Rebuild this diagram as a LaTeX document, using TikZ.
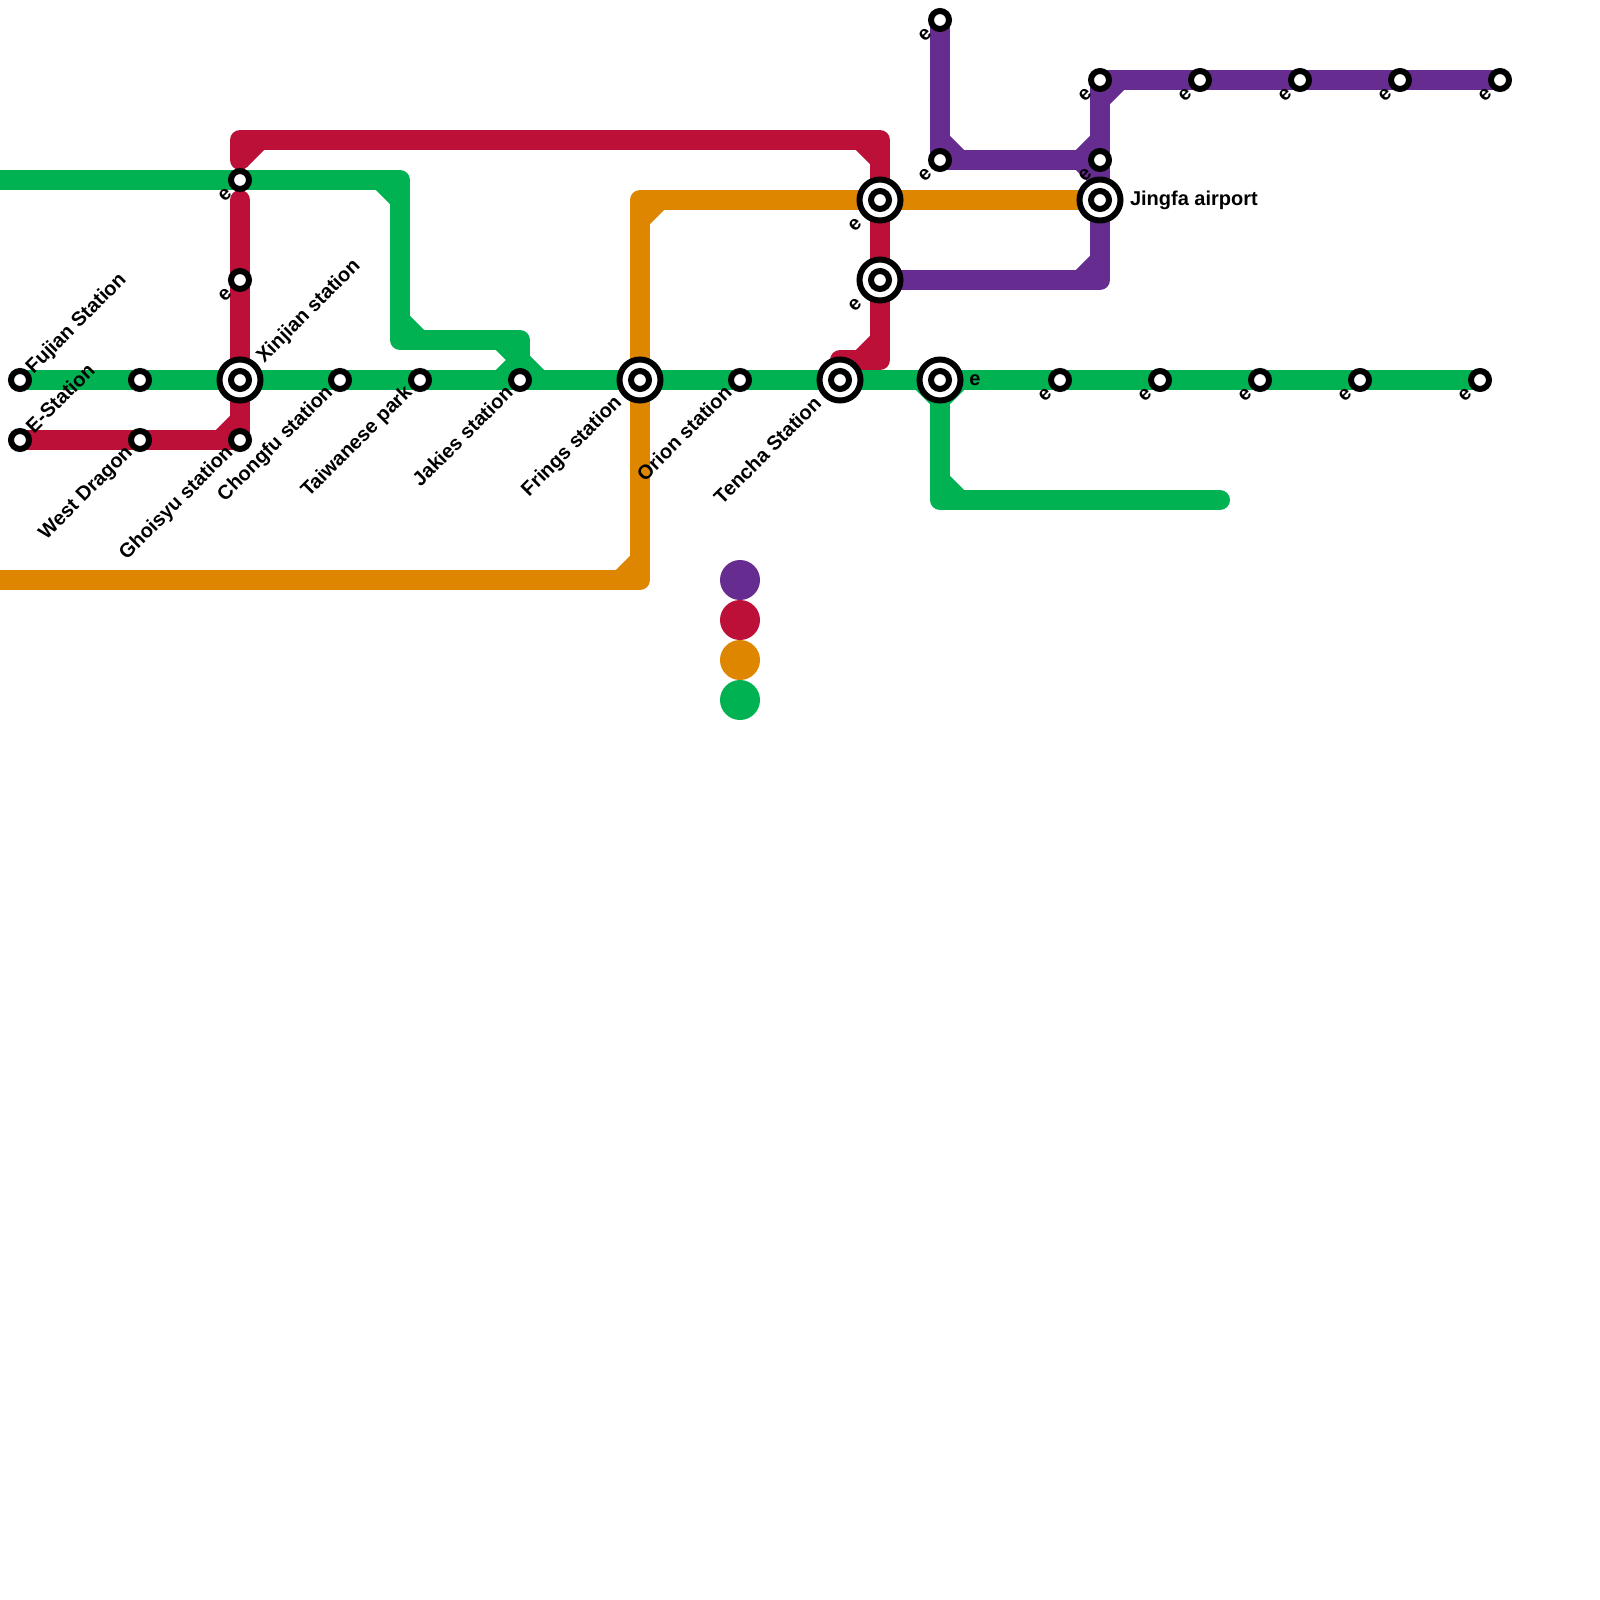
\documentclass[tikz,border=0pt]{standalone}
\usepackage{fontspec}
\setmainfont{Liberation Sans}
\definecolor{lgreen}{HTML}{00B251}
\definecolor{lpurple}{HTML}{662C90}
\definecolor{lred}{HTML}{BD1038}
\definecolor{lorange}{HTML}{DF8600}
\tikzset{
  x=1cm,y=-1cm,
  metro/.style={line width=1cm,line cap=round,line join=round},
  cham/.style={line width=1cm,line cap=butt},
  stn/.style={circle,draw=black,fill=white,line width=0.3cm,minimum size=0.9cm,inner sep=0pt,outer sep=0pt},
  hubouter/.style={circle,draw=black,fill=white,line width=0.3cm,minimum size=2.05cm,inner sep=0pt,outer sep=0pt},
  legenddot/.style={circle,minimum size=2cm,inner sep=0pt,outer sep=0pt},
  lab/.style={font=\fontsize{28.45}{32}\selectfont\bfseries,inner sep=0pt,outer sep=0pt,text=black},
  uplab/.style={lab,rotate=45,anchor=west},
  downlab/.style={lab,rotate=45,anchor=east},
  elab/.style={lab,rotate=45,anchor=center},
}
\newcommand{\smallstn}[2]{\node[stn] (#1) at (#2) {};}
\newcommand{\hubstn}[2]{\node[hubouter] (#1) at (#2) {}; \node[stn] (#1i) at (#2) {};}
\begin{document}
\begin{tikzpicture}
\useasboundingbox (0,0) rectangle (80,80);
% purple
\draw[metro,lpurple] (47,1) -- (47,8) -- (55,8);
\draw[metro,lpurple] (44,14) -- (55,14) -- (55,4) -- (75,4);
\draw[cham,lpurple] (47,7) -- (48,8);
\draw[cham,lpurple] (54,8) -- (55,7);
\draw[cham,lpurple] (54,8) -- (55,9);
\draw[cham,lpurple] (54,14) -- (55,13);
\draw[cham,lpurple] (55,5) -- (56,4);
% red
\draw[metro,lred] (12,8) -- (12,7) -- (44,7) -- (44,18) -- (42,18);
\draw[cham,lred] (12,8) -- (13,7);
\draw[cham,lred] (43,7) -- (44,8);
\draw[cham,lred] (43,18) -- (44,17);
\draw[metro,lred] (12,10) -- (12,22) -- (1,22);
\draw[cham,lred] (11,22) -- (12,21);
% orange
\draw[metro,lorange,line cap=butt] (0,29) -- (32,29) -- (32,10) -- (55,10);
\draw[cham,lorange] (31,29) -- (32,28);
\draw[cham,lorange] (32,11) -- (33,10);
% green
\draw[metro,lgreen,line cap=butt] (0,9) -- (20,9) -- (20,17) -- (26,17) -- (26,19);
\draw[cham,lgreen] (19,9) -- (20,10);
\draw[cham,lgreen] (20,16) -- (21,17);
\draw[cham,lgreen] (25,17) -- (26,18);
\draw[cham,lgreen] (25,19) -- (26,18);
\draw[cham,lgreen] (26,18) -- (27,19);
\draw[metro,lgreen] (1,19) -- (74,19);
\draw[metro,lgreen] (47,19) -- (47,25) -- (61,25);
\draw[cham,lgreen] (46,19) -- (47,20);
\draw[cham,lgreen] (47,20) -- (48,19);
\draw[cham,lgreen] (47,24) -- (48,25);
% legend
\node[legenddot,fill=lpurple] (legA) at (37,29) {};
\node[legenddot,fill=lred] (legB) at (37,31) {};
\node[legenddot,fill=lorange] (legC) at (37,33) {};
\node[legenddot,fill=lgreen] (legD) at (37,35) {};
% stations
\smallstn{s1}{1,19}\smallstn{s2}{7,19}\smallstn{s3}{17,19}\smallstn{s4}{21,19}\smallstn{s5}{26,19}
\smallstn{s6}{37,19}\smallstn{s7}{53,19}\smallstn{s8}{58,19}\smallstn{s9}{63,19}\smallstn{s10}{68,19}\smallstn{s11}{74,19}
\smallstn{s12}{1,22}\smallstn{s13}{7,22}\smallstn{s14}{12,22}\smallstn{s15}{12,9}\smallstn{s16}{12,14}
\smallstn{s17}{47,1}\smallstn{s18}{47,8}\smallstn{s19}{55,4}\smallstn{s20}{55,8}\smallstn{s21}{60,4}\smallstn{s22}{65,4}\smallstn{s23}{70,4}\smallstn{s24}{75,4}
\hubstn{h1}{12,19}\hubstn{h2}{32,19}\hubstn{h3}{42,19}\hubstn{h4}{47,19}\hubstn{h5}{44,10}\hubstn{h6}{44,14}\hubstn{h7}{55,10}
% named labels
\node[uplab] (t1) at (1.5,18.53) {Fujian Station};
\node[uplab] (t2) at (1.45,21.45) {E-Station};
\node[uplab] (t3) at (13.03,18.0) {Xinjian station};
\node[downlab] (t4) at (6.5,22.5) {West Dragon};
\node[downlab] (t5) at (11.5,22.5) {Ghoisyu station};
\node[downlab] (t6) at (16.5,19.5) {Chongfu station};
\node[downlab] (t7) at (20.47,19.5) {Taiwanese park};
\node[downlab] (t8) at (25.45,19.45) {Jakies station};
\node[downlab] (t9) at (30.95,20.0) {Frings station};
\node[downlab] (t10) at (36.4,19.45) {Orion station};
\node[downlab] (t11) at (40.87,20.0) {Tencha Station};
\node[lab,anchor=west] (t12) at (56.5,10.0) {Jingfa airport};
\node[lab,anchor=center] (e0) at (48.75,19.03) {e};
% e labels
\foreach \i/\p in {a/{11.25,9.75},b/{11.25,14.75},c/{46.25,1.75},d/{46.25,8.75},e/{42.75,11.25},f/{42.75,15.25},g/{54.25,4.75},h/{54.25,8.75},i/{59.25,4.75},j/{64.25,4.75},k/{69.25,4.75},l/{74.25,4.75},m/{52.25,19.75},n/{57.25,19.75},o/{62.25,19.75},p/{67.25,19.75},q/{73.25,19.75}}{
  \node[elab] (e\i) at (\p) {e};
}
\end{tikzpicture}
\end{document}
